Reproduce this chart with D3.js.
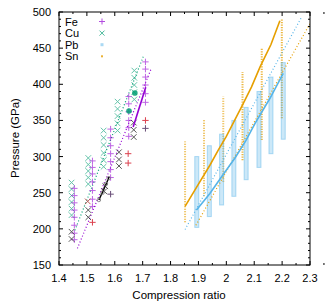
<!DOCTYPE html>
<html>
<head>
  <meta charset="UTF-8">
  <style>
    body { margin: 0; background: white; }
    svg { font-family: "Liberation Sans", Arial, sans-serif; }
  </style>
</head>
<body>
<svg></svg>
<script src="https://d3js.org/d3.v7.min.js"></script>
<script>
let width = 332, height = 303;

// --- data ---
const xTicks = [1.4, 1.5, 1.6, 1.7, 1.8, 1.9, 2.0, 2.1, 2.2, 2.3];
const yTicks = [150, 200, 250, 300, 350, 400, 450, 500];

// Fe (+), columns of points: [ratio, pressure]
const fePts = [
  [1.455,256],[1.455,246],[1.455,236],[1.455,226],[1.455,216],[1.455,205],[1.455,194],[1.455,185],
  [1.52,294],[1.52,285],[1.52,276],[1.52,265],[1.52,253],[1.52,241],[1.52,231],
  [1.585,338],[1.585,326],[1.585,315],[1.585,304],[1.585,293],[1.585,282],[1.585,271],
  [1.65,383],[1.65,373],[1.65,362],[1.65,350],[1.65,340],[1.65,328],
  [1.71,431],[1.71,421],[1.71,410],[1.71,399],[1.71,387],[1.71,375]
];
// Cu (x)
const cuPts = [
  [1.445,264],[1.445,255],[1.445,246],[1.445,237],[1.445,228],[1.445,219],
  [1.505,298],[1.505,289],[1.505,280],[1.505,271],[1.505,262],
  [1.56,336],[1.56,326],[1.56,316],[1.56,305],[1.56,295],[1.56,286],
  [1.61,376],[1.61,366],[1.61,356],[1.61,346],[1.61,336],
  [1.67,419],[1.67,409],[1.67,399],[1.67,389],[1.67,379]
];
const cuFilled = [[1.651,363],[1.672,388]];
// other experiments
const blackX = [[1.445,196],[1.445,186],[1.505,226],[1.505,216],[1.615,306],[1.615,296],[1.615,287],
  [1.668,347],[1.668,337],[1.668,327],[1.562,252],[1.566,259]];
const brownX = [[1.503,238]];
const redPlus = [[1.52,209],[1.648,304],[1.648,291],[1.71,350]];
const darkPlus = [[1.71,339],[1.585,248]];
const blackCircles = [[1.543,240],[1.556,250],[1.568,262],[1.578,270]];

// Pb columns: [ratio, min, max]
const pbCols = [[1.894,202,300],[1.939,217,315],[1.983,233,331],[2.027,245,350],
  [2.071,268,368],[2.117,285,390],[2.160,304,410],[2.204,324,430]];
// Sn columns
const snCols = [[1.852,209,321],[1.920,245,352],[1.989,265,383],[2.058,295,417],
  [2.127,323,450],[2.199,353,490]];

// solid curves
const feLine = [[1.666,341],[1.711,396]];
const blackLine = [[1.543,240],[1.56,254],[1.58,272]];
const pbLine = [[1.893,226],[1.941,249],[1.983,272],[2.031,298],[2.07,322],[2.103,346],[2.157,381],[2.204,415]];
const snLine = [[1.852,231],[1.9,262],[1.941,288],[1.971,309],[2.0,328],[2.055,369],[2.09,396],[2.121,424],[2.16,455],[2.192,488]];

// dotted fits
const cuFit = [[1.457,198],[1.702,438]];
const feFit = [[1.466,173],[1.729,420]];
const pbFit = [[1.852,199],[2.270,493]];
const snFit = [[1.891,205],[2.3,484]];

const legendNames = ["Fe", "Cu", "Pb", "Sn"];

const colors = { Fe: "#9400d3", Cu: "#009e73", Pb: "#56b4e9", Sn: "#e69f00" };

let svg = d3.select("svg")
    .attr("width", width)
    .attr("height", height);

const x = d3.scaleLinear().domain([1.4, 2.3]).range([59, 310]);
const y = d3.scaleLinear().domain([150, 500]).range([265, 12]);

const plot = svg.append("g");

// clip to the frame
svg.append("clipPath").attr("id", "clip")
  .append("rect").attr("x", 59).attr("y", 12).attr("width", 251).attr("height", 253);
const g = plot.append("g").attr("clip-path", "url(#clip)");

const line = d3.line().x(d => x(d[0])).y(d => y(d[1]));

// Sn columns (dotted)
g.selectAll(".sncol").data(snCols).join("line")
  .attr("x1", d => x(d[0])).attr("x2", d => x(d[0]))
  .attr("y1", d => y(d[1])).attr("y2", d => y(d[2]))
  .attr("stroke", colors.Sn).attr("stroke-width", 2)
  .attr("stroke-dasharray", "1.2,1.3").attr("opacity", 0.75);

// Pb columns (stacks of open squares)
g.selectAll(".pbcol").data(pbCols).join("rect")
  .attr("x", d => x(d[0]) - 2).attr("width", 4)
  .attr("y", d => y(d[2])).attr("height", d => y(d[1]) - y(d[2]))
  .attr("fill", colors.Pb).attr("fill-opacity", 0.3)
  .attr("stroke", colors.Pb).attr("stroke-opacity", 0.45).attr("stroke-width", 1);

// dotted fit lines
[[cuFit, colors.Cu], [feFit, colors.Fe], [pbFit, colors.Pb], [snFit, colors.Sn]].forEach(([d, c]) => {
  g.append("path").datum(d).attr("d", line)
    .attr("fill", "none").attr("stroke", c).attr("stroke-width", 1.2)
    .attr("stroke-dasharray", "1,2.2");
});

// marker helpers
function plus(sel, data, color, op) {
  const s = 3.2;
  sel.append("g").selectAll("path").data(data).join("path")
    .attr("d", d => `M${x(d[0]) - s},${y(d[1])}h${2 * s}M${x(d[0])},${y(d[1]) - s}v${2 * s}`)
    .attr("stroke", color).attr("stroke-width", 1).attr("opacity", op);
}
function cross(sel, data, color, op) {
  const s = 2.8;
  sel.append("g").selectAll("path").data(data).join("path")
    .attr("d", d => `M${x(d[0]) - s},${y(d[1]) - s}l${2 * s},${2 * s}M${x(d[0]) - s},${y(d[1]) + s}l${2 * s},${-2 * s}`)
    .attr("stroke", color).attr("stroke-width", 1).attr("opacity", op);
}

cross(g, cuPts, colors.Cu, 0.6);
plus(g, fePts, colors.Fe, 0.6);
cross(g, blackX, "#222", 0.75);
cross(g, brownX, "#a33", 0.8);
plus(g, redPlus, "#d62030", 0.85);
plus(g, darkPlus, "#503060", 0.85);

g.append("g").selectAll("circle").data(cuFilled).join("circle")
  .attr("cx", d => x(d[0])).attr("cy", d => y(d[1])).attr("r", 2.8)
  .attr("fill", colors.Cu).attr("opacity", 0.85);

// solid curves
g.append("path").datum(snLine).attr("d", line)
  .attr("fill", "none").attr("stroke", colors.Sn).attr("stroke-width", 1.6);
g.append("path").datum(pbLine).attr("d", line)
  .attr("fill", "none").attr("stroke", colors.Pb).attr("stroke-width", 1.6);
g.append("path").datum(feLine).attr("d", line)
  .attr("fill", "none").attr("stroke", colors.Fe).attr("stroke-width", 1.6);
g.append("path").datum(blackLine).attr("d", line)
  .attr("fill", "none").attr("stroke", "#000").attr("stroke-width", 1.4);
g.append("g").selectAll("circle").data(blackCircles).join("circle")
  .attr("cx", d => x(d[0])).attr("cy", d => y(d[1])).attr("r", 1.8)
  .attr("fill", "none").attr("stroke", "#777").attr("stroke-width", 0.8);

// frame
svg.append("rect").attr("x", 59).attr("y", 12).attr("width", 251).attr("height", 253)
  .attr("fill", "none").attr("stroke", "#000").attr("stroke-width", 1);

// ticks (inward, mirrored, with minor ticks)
const ax = svg.append("g").attr("stroke", "#000").attr("stroke-width", 1);
const xMinor = d3.range(28).map(i => 1.4 + i * 0.05).filter(v => Math.abs(v * 10 - Math.round(v * 10)) > 0.01);
const yMinor = d3.range(36).map(i => 150 + i * 10).filter(v => v % 50 !== 0);
xTicks.forEach(v => {
  ax.append("line").attr("x1", x(v)).attr("x2", x(v)).attr("y1", 265).attr("y2", 261);
  ax.append("line").attr("x1", x(v)).attr("x2", x(v)).attr("y1", 12).attr("y2", 16);
});
xMinor.forEach(v => {
  ax.append("line").attr("x1", x(v)).attr("x2", x(v)).attr("y1", 265).attr("y2", 263);
  ax.append("line").attr("x1", x(v)).attr("x2", x(v)).attr("y1", 12).attr("y2", 14);
});
yTicks.forEach(v => {
  ax.append("line").attr("y1", y(v)).attr("y2", y(v)).attr("x1", 59).attr("x2", 63);
  ax.append("line").attr("y1", y(v)).attr("y2", y(v)).attr("x1", 310).attr("x2", 306);
});
yMinor.forEach(v => {
  ax.append("line").attr("y1", y(v)).attr("y2", y(v)).attr("x1", 59).attr("x2", 61);
  ax.append("line").attr("y1", y(v)).attr("y2", y(v)).attr("x1", 310).attr("x2", 308);
});

// tick labels
svg.append("g").selectAll("text").data(xTicks).join("text")
  .attr("x", d => x(d)).attr("y", 282)
  .attr("text-anchor", "middle").style("font-size", "11px")
  .text(d => d3.format("~g")(d));
svg.append("g").selectAll("text").data(yTicks).join("text")
  .attr("x", 51).attr("y", d => y(d) + 4)
  .attr("text-anchor", "end").style("font-size", "11px")
  .text(d => d);

// axis titles
svg.append("text").attr("x", 179).attr("y", 299)
  .attr("text-anchor", "middle").style("font-size", "11.5px")
  .text("Compression ratio");
svg.append("text")
  .attr("transform", "translate(19,138) rotate(-90)")
  .attr("text-anchor", "middle").style("font-size", "11.5px")
  .text("Pressure (GPa)");

// legend
const leg = svg.append("g");
leg.selectAll("text").data(legendNames).join("text")
  .attr("x", 65).attr("y", (d, i) => 25.5 + i * 11.6)
  .style("font-size", "11px").text(d => d);
const ly = i => 21.5 + i * 11.6;
leg.append("path").attr("d", `M99,${ly(0)}h6M102,${ly(0) - 3}v6`)
  .attr("stroke", colors.Fe).attr("opacity", 0.7);
leg.append("path").attr("d", `M99.5,${ly(1) - 2.5}l5,5M99.5,${ly(1) + 2.5}l5,-5`)
  .attr("stroke", colors.Cu).attr("opacity", 0.7);
leg.append("rect").attr("x", 100.5).attr("y", ly(2) - 1.5).attr("width", 3).attr("height", 3)
  .attr("fill", colors.Pb).attr("opacity", 0.5);
leg.append("rect").attr("x", 101).attr("y", ly(3) - 1).attr("width", 2).attr("height", 2)
  .attr("fill", colors.Sn).attr("opacity", 0.8);
</script>
</body>
</html>
